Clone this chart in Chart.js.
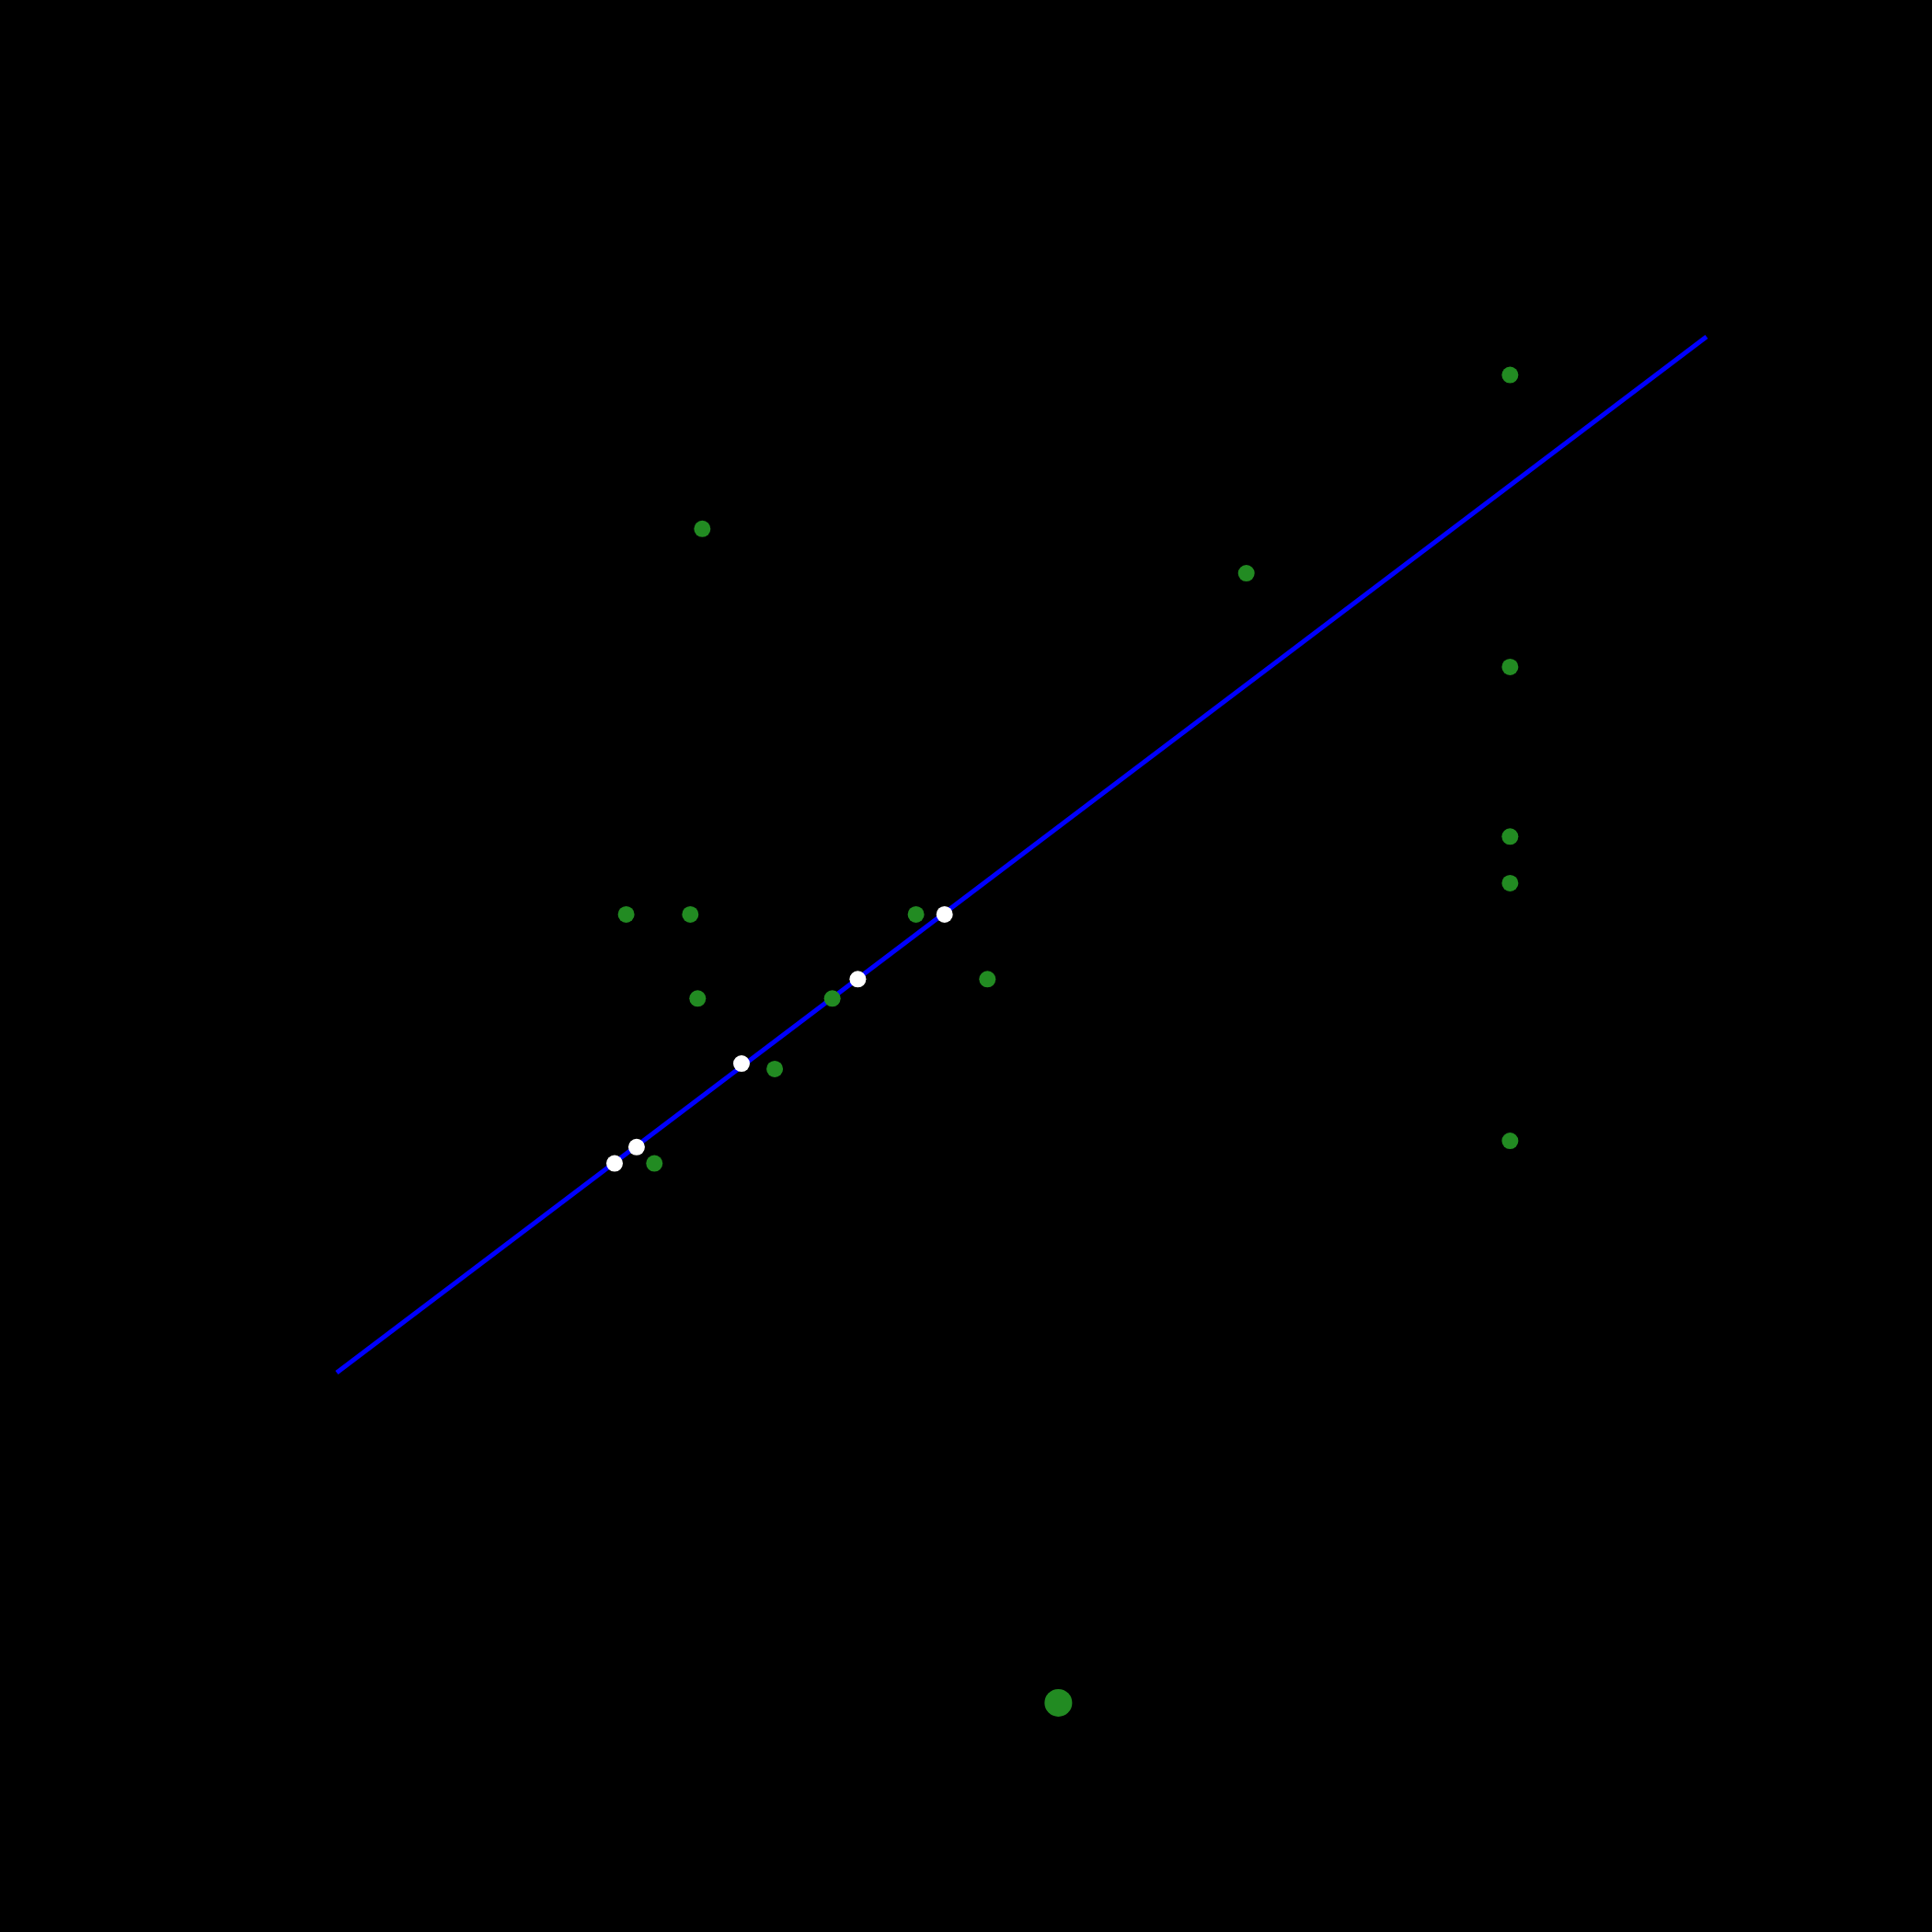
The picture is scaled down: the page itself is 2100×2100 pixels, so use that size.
<!DOCTYPE html>
<html>
<head>
<meta charset="utf-8">
<script src="https://cdn.jsdelivr.net/npm/chart.js@4/dist/chart.umd.min.js"></script>
<style>
  html, body { margin: 0; padding: 0; background: #000000; }
  #wrap { width: 2100px; height: 2100px; }
  canvas { display: block; background: #000000; }
</style>
</head>
<body>
<div id="wrap"><canvas id="c" width="2100" height="2100"></canvas></div>
<script>
// Observed points (green)
const greenX = [32.41, 35.73, 36.11, 43.08, 47.41, 51.11, 40.10, 33.87, 36.35, 64.51, 78.16, 78.16, 78.16, 78.16, 78.16];
const greenY = [52.67, 52.67, 48.32, 48.32, 52.67, 49.32, 44.67, 39.78, 72.63, 70.33, 80.59, 65.48, 56.70, 54.29, 40.95];
// Highlighted outlier (large green)
const outlierX = [54.78];
const outlierY = [11.86];
// Points on the fitted line (white)
const fitX = [31.81, 32.95, 38.38, 44.40, 48.89];
const fitY = [39.78, 40.63, 44.95, 49.32, 52.67];
// Fitted line end points
const lineX = [17.43, 88.33];
const lineY = [28.95, 82.57];

const toPts = (xs, ys) => xs.map((x, i) => ({ x: x, y: ys[i] }));

new Chart(document.getElementById('c'), {
  type: 'scatter',
  data: {
    datasets: [
      {
        label: 'outlier',
        data: toPts(outlierX, outlierY),
        backgroundColor: '#228B22',
        borderWidth: 0,
        pointRadius: 15,
        order: 0
      },
      {
        label: 'fitted',
        data: toPts(fitX, fitY),
        backgroundColor: '#FFFFFF',
        borderWidth: 0,
        pointRadius: 9,
        order: 1
      },
      {
        label: 'observed',
        data: toPts(greenX, greenY),
        backgroundColor: '#228B22',
        borderWidth: 0,
        pointRadius: 9,
        order: 2
      },
      {
        label: 'fit line',
        data: toPts(lineX, lineY),
        showLine: true,
        borderColor: '#0000FF',
        borderWidth: 5,
        borderCapStyle: 'butt',
        pointRadius: 0,
        fill: false,
        order: 3
      }
    ]
  },
  options: {
    responsive: false,
    devicePixelRatio: 1,
    animation: false,
    layout: { padding: 0, autoPadding: false },
    plugins: { legend: { display: false }, tooltip: { enabled: false } },
    scales: {
      x: { type: 'linear', min: 0, max: 100, display: false },
      y: { type: 'linear', min: 0, max: 100, display: false }
    }
  }
});
</script>
</body>
</html>
